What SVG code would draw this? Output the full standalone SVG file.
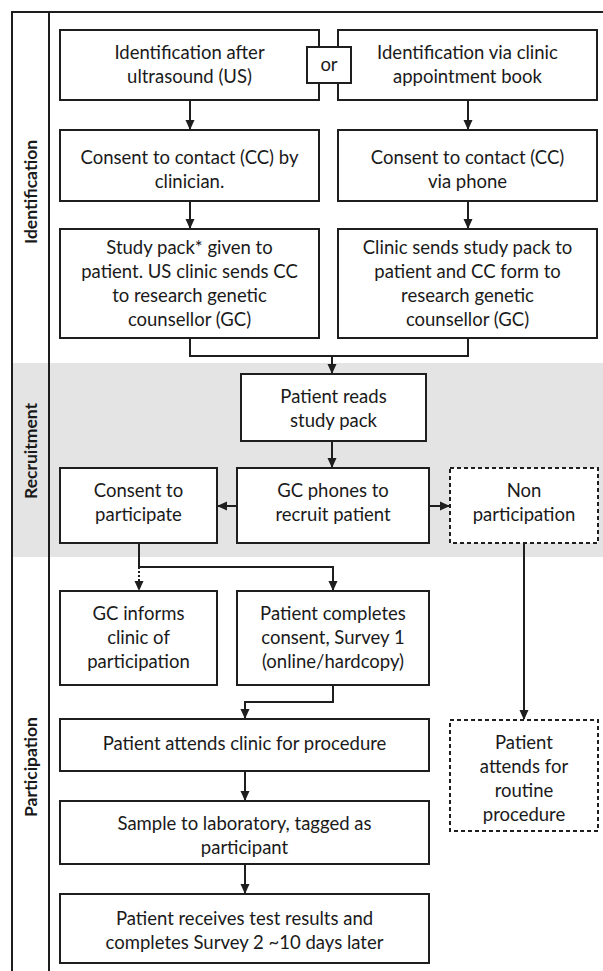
<svg xmlns="http://www.w3.org/2000/svg" width="603" height="971" viewBox="0 0 603 971">
<defs>
<style>
.box{fill:#fff;stroke:#1e1e1e;stroke-width:2}
.dash{fill:#fff;stroke:#1e1e1e;stroke-width:2;stroke-dasharray:4 3}
.t{font-family:Lato,"Open Sans",sans-serif;font-size:18.5px;fill:#1a1a1a;text-anchor:middle}
.lab{font-family:Lato,"Open Sans",sans-serif;font-size:17.5px;font-weight:bold;fill:#1a1a1a;text-anchor:middle}
.c{fill:none;stroke:#1e1e1e;stroke-width:2}
.dot{fill:none;stroke:#1e1e1e;stroke-width:2;stroke-dasharray:2 2}
.frame{fill:none;stroke:#1e1e1e;stroke-width:2}
</style>
<marker id="ah" markerWidth="10" markerHeight="10" refX="9" refY="5" orient="auto" markerUnits="userSpaceOnUse">
<path d="M0,0.5 L10,5 L0,9.5 Z" fill="#1e1e1e"/>
</marker>
</defs>
<rect x="0" y="0" width="603" height="971" fill="#fff"/>
<rect x="12" y="363" width="591" height="194" fill="#e4e4e4"/>
<g id="frame">
<path class="frame" d="M12,971 V12 H603"/>
<path class="frame" d="M49,12 V971"/>
<text class="lab" transform="translate(37,192) rotate(-90)">Identification</text>
<text class="lab" transform="translate(37,451) rotate(-90)">Recruitment</text>
<text class="lab" transform="translate(37,767) rotate(-90)">Participation</text>
</g>
<g id="connectors">
<path class="c" d="M190,100 V129" marker-end="url(#ah)"/>
<path class="c" d="M468,100 V129" marker-end="url(#ah)"/>
<path class="c" d="M190,201 V228" marker-end="url(#ah)"/>
<path class="c" d="M468,201 V228" marker-end="url(#ah)"/>
<path class="c" d="M190,338 V356 H468 V338"/>
<path class="c" d="M332,356 V373" marker-end="url(#ah)"/>
<path class="c" d="M332,441 V467" marker-end="url(#ah)"/>
<path class="c" d="M237,506 H218" marker-end="url(#ah)"/>
<path class="c" d="M429,506 H449" marker-end="url(#ah)"/>
<path class="c" d="M139,543 V567 H333 V590" marker-end="url(#ah)"/>
<path class="dot" d="M139,567 V590" marker-end="url(#ah)"/>
<path class="c" d="M333,685 V702 H245 V718" marker-end="url(#ah)"/>
<path class="c" d="M245,771 V800" marker-end="url(#ah)"/>
<path class="c" d="M245,864 V893" marker-end="url(#ah)"/>
<path class="c" d="M524,543 V719" marker-end="url(#ah)"/>
</g>
<g id="n1"><rect class="box" x="60" y="30" width="259" height="70"/>
<text class="t" x="189.5" y="59">Identification after</text><text class="t" x="189.5" y="83">ultrasound (US)</text></g>
<g id="n2"><rect class="box" x="338" y="30" width="259" height="70"/>
<text class="t" x="467.5" y="59">Identification via clinic</text><text class="t" x="467.5" y="83">appointment book</text></g>
<g id="or"><rect class="box" x="307" y="47" width="44" height="36"/>
<text class="t" x="329" y="71">or</text></g>
<g id="n3"><rect class="box" x="60" y="130" width="259" height="71"/>
<text class="t" x="189.5" y="164">Consent to contact (CC) by</text><text class="t" x="189.5" y="188">clinician.</text></g>
<g id="n4"><rect class="box" x="338" y="130" width="259" height="71"/>
<text class="t" x="467.5" y="164">Consent to contact (CC)</text><text class="t" x="467.5" y="188">via phone</text></g>
<g id="n5"><rect class="box" x="60" y="229" width="259" height="109"/>
<text class="t" x="189.5" y="254">Study pack* given to</text><text class="t" x="189.5" y="278">patient. US clinic sends CC</text><text class="t" x="189.5" y="302">to research genetic</text><text class="t" x="189.5" y="326">counsellor (GC)</text></g>
<g id="n6"><rect class="box" x="338" y="229" width="259" height="109"/>
<text class="t" x="467.5" y="254">Clinic sends study pack to</text><text class="t" x="467.5" y="278">patient and CC form to</text><text class="t" x="467.5" y="302">research genetic</text><text class="t" x="467.5" y="326">counsellor (GC)</text></g>
<g id="n7"><rect class="box" x="241" y="374" width="185" height="67"/>
<text class="t" x="333.5" y="403">Patient reads</text><text class="t" x="333.5" y="427">study pack</text></g>
<g id="n8"><rect class="box" x="237" y="468" width="192" height="75"/>
<text class="t" x="333" y="497">GC phones to</text><text class="t" x="333" y="521">recruit patient</text></g>
<g id="n9"><rect class="box" x="60" y="468" width="157" height="75"/>
<text class="t" x="138.5" y="497">Consent to</text><text class="t" x="138.5" y="521">participate</text></g>
<g id="n10"><rect class="dash" x="450" y="468" width="148" height="75"/>
<text class="t" x="524" y="497">Non</text><text class="t" x="524" y="521">participation</text></g>
<g id="n11"><rect class="box" x="60" y="591" width="157" height="94"/>
<text class="t" x="138.5" y="620">GC informs</text><text class="t" x="138.5" y="644">clinic of</text><text class="t" x="138.5" y="668">participation</text></g>
<g id="n12"><rect class="box" x="237" y="591" width="192" height="94"/>
<text class="t" x="333" y="620">Patient completes</text><text class="t" x="333" y="644">consent, Survey 1</text><text class="t" x="333" y="668">(online/hardcopy)</text></g>
<g id="n13"><rect class="box" x="60" y="719" width="369" height="52"/>
<text class="t" x="244.5" y="750">Patient attends clinic for procedure</text></g>
<g id="n14"><rect class="box" x="60" y="801" width="369" height="63"/>
<text class="t" x="244.5" y="830">Sample to laboratory, tagged as</text><text class="t" x="244.5" y="854">participant</text></g>
<g id="n15"><rect class="box" x="60" y="894" width="369" height="69"/>
<text class="t" x="244.5" y="925">Patient receives test results and</text><text class="t" x="244.5" y="949">completes Survey 2 ~10 days later</text></g>
<g id="n16"><rect class="dash" x="450" y="720" width="148" height="111"/>
<text class="t" x="524" y="749">Patient</text><text class="t" x="524" y="773">attends for</text><text class="t" x="524" y="797">routine</text><text class="t" x="524" y="821">procedure</text></g>
</svg>
